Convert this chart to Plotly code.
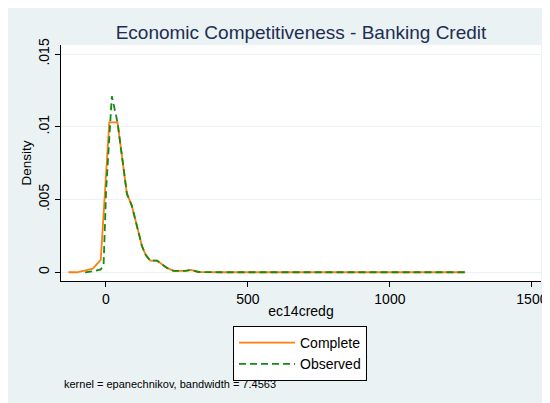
import plotly.graph_objects as go

# Data
complete_x = [-132, -102, -75, -46, -18, 12, 41, 60, 74, 91, 110, 127, 140, 156, 180, 200, 215, 238, 260, 280, 300, 326,
              400, 500, 567, 600, 655, 700, 800, 860, 900, 1000, 1117, 1150, 1177, 1220, 1265]
complete_y = [0, 0, 0.00012, 0.00025, 0.00085, 0.0103, 0.0103, 0.0075, 0.0054, 0.0046, 0.0031, 0.0018, 0.0012, 0.0008,
              0.0008, 0.0005, 0.0003, 0.0001, 0.0001, 0.0001, 0.00016, 0.00002,
              0, 0, 0.00004, 0, 0.00004, 0, 0, 0.00004, 0, 0, 0.00005, 0.00002, 0.00005, 0, 0]

observed_x = [-73, -44, -18, -8, 1, 21, 41, 60, 74, 91, 110, 127, 140, 156, 180, 200, 215, 238, 260, 280, 300, 326,
              400, 500, 567, 600, 655, 700, 800, 860, 900, 1000, 1117, 1150, 1177, 1220, 1265]
observed_y = [0, 0.00007, 0.0002, 0.0005, 0.0057, 0.0121, 0.0103, 0.0075, 0.0054, 0.0046, 0.0031, 0.0018, 0.0012, 0.0008,
              0.0008, 0.0005, 0.0003, 0.0001, 0.0001, 0.0001, 0.00016, 0.00002,
              0, 0, 0.00004, 0, 0.00004, 0, 0, 0.00004, 0, 0, 0.00005, 0.00002, 0.00005, 0, 0]

x_ticks = [0, 500, 1000, 1500]
y_ticks = [0, 0.005, 0.01, 0.015]
y_ticklabels = ["0", ".005", ".01", ".015"]

FONT = "Liberation Sans, Arial, sans-serif"
BG = "#EAF2F3"

fig = go.Figure()
fig.add_trace(go.Scatter(x=complete_x, y=complete_y, mode="lines", name="Complete",
                         line=dict(color="#FF7F0E", width=1.8)))
fig.add_trace(go.Scatter(x=observed_x, y=observed_y, mode="lines", name="Observed",
                         line=dict(color="#138A13", width=1.8, dash="7px,4px")))

# page body has an 8px margin, so the figure is drawn at (8, 8)
OFF = 8
W, H = 550 - OFF, 403 - OFF
L, R, T, B = 53, 9, 37, 122
pw, ph = W - L - R, H - T - B

def px2x(p):
    return (p - OFF - L) / pw

def px2y(p):
    return (H - B - (p - OFF)) / ph

fig.update_layout(
    width=W, height=H,
    margin=dict(l=L, r=R, t=T, b=B, autoexpand=False),
    paper_bgcolor=BG, plot_bgcolor="white",
    font=dict(family=FONT, color="black", size=14),
    title=dict(text="Economic Competitiveness - Banking Credit", x=(301 - OFF) / W,
               xanchor="center", y=1 - (32 - OFF) / H, yanchor="middle",
               font=dict(size=19, color="#1E2D52", family=FONT)),
    showlegend=True,
    legend=dict(x=px2x(233), y=px2y(326), xanchor="left", yanchor="top",
                bgcolor="white", bordercolor="black", borderwidth=1, itemwidth=56,
                font=dict(size=14, family=FONT), tracegroupgap=0),
    xaxis=dict(range=[-158, 1532], tickvals=x_ticks, ticks="outside", ticklen=5, tickcolor="black",
               showline=True, linecolor="black", linewidth=1, showgrid=False, zeroline=False,
               tickfont=dict(size=14), automargin=False,
               title=dict(text="ec14credg", font=dict(size=14), standoff=0)),
    yaxis=dict(range=[-0.0006, 0.01562], tickvals=y_ticks, ticktext=y_ticklabels, tickangle=-90,
               ticks="outside", ticklen=5, tickcolor="black",
               showline=True, linecolor="black", linewidth=1, showgrid=True, gridcolor=BG, gridwidth=1,
               zeroline=False, tickfont=dict(size=14), automargin=False,
               title=dict(text="Density", font=dict(size=13.5), standoff=1)),
)

fig.add_annotation(text="kernel = epanechnikov, bandwidth = 7.4563", xref="paper", yref="paper",
                   x=px2x(62), y=px2y(384), xanchor="left", yanchor="middle", showarrow=False,
                   font=dict(size=11, family=FONT))

fig.write_html("out.html")
